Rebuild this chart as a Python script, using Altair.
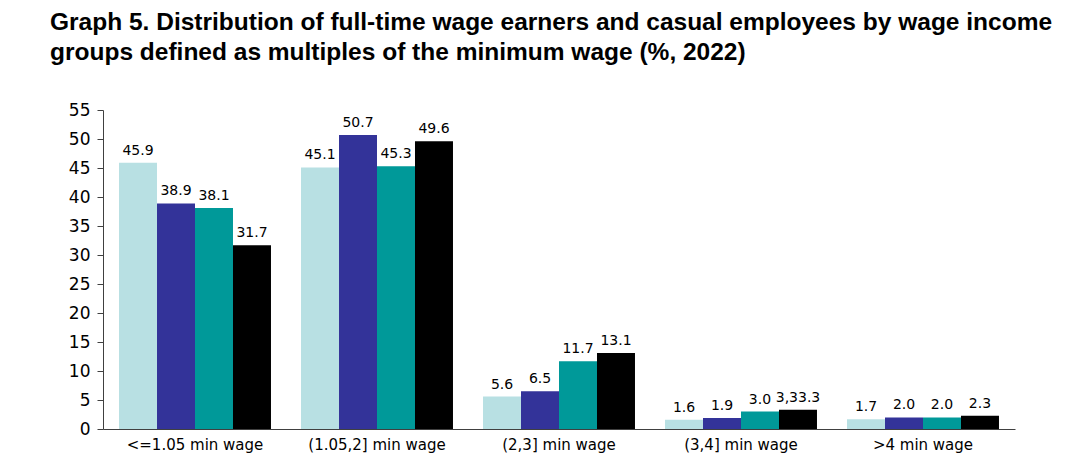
import altair as alt
import pandas as pd

categories = ["<=1.05 min wage", "(1.05,2] min wage", "(2,3] min wage", "(3,4] min wage", ">4 min wage"]
series = ["Series 1", "Series 2", "Series 3", "Series 4"]
s1 = [45.9, 45.1, 5.6, 1.6, 1.7]
s2 = [38.9, 50.7, 6.5, 1.9, 2.0]
s3 = [38.1, 45.3, 11.7, 3.0, 2.0]
s4 = [31.7, 49.6, 13.1, 3.3, 2.3]
labels1 = ["45.9", "45.1", "5.6", "1.6", "1.7"]
labels2 = ["38.9", "50.7", "6.5", "1.9", "2.0"]
labels3 = ["38.1", "45.3", "11.7", "3.0", "2.0"]
labels4 = ["31.7", "49.6", "13.1", "3,33.3", "2.3"]
colors = ["#B8E0E3", "#333399", "#009999", "#000000"]
y_ticks = [0, 5, 10, 15, 20, 25, 30, 35, 40, 45, 50, 55]

rows = []
for name, vals, labs in zip(series, [s1, s2, s3, s4], [labels1, labels2, labels3, labels4]):
    for c, v, l in zip(categories, vals, labs):
        rows.append({"category": c, "series": name, "value": v, "label": l})
df = pd.DataFrame(rows)

x_enc = alt.X(
    "category:N",
    sort=categories,
    scale=alt.Scale(paddingInner=0.165, paddingOuter=0.088),
    axis=alt.Axis(
        title=None, labelAngle=0, ticks=False, labelPadding=8,
        labelFont="DejaVu Sans", labelFontSize=15, labelColor="black",
        domainColor="#404040", domainWidth=1,
    ),
)
xoff = alt.XOffset("series:N", sort=series, scale=alt.Scale(paddingInner=0, paddingOuter=0))
y_enc = alt.Y(
    "value:Q",
    scale=alt.Scale(domain=[0, 55], nice=False, zero=True),
    axis=alt.Axis(
        title=None, values=y_ticks, tickCount=12, grid=False, tickSize=6, tickColor="#404040",
        domainColor="#404040", labelPadding=7, labelFont="DejaVu Sans",
        labelFontSize=17, labelColor="black", labelOverlap=False, labelFlush=False,
    ),
)

bars = alt.Chart(df).mark_bar().encode(
    x=x_enc,
    xOffset=xoff,
    y=y_enc,
    color=alt.Color("series:N", sort=series, scale=alt.Scale(domain=series, range=colors), legend=None),
)

texts = alt.Chart(df).mark_text(
    baseline="bottom", dy=-5, font="DejaVu Sans", fontSize=14, color="black"
).encode(
    x=x_enc,
    xOffset=xoff,
    y=y_enc,
    text="label:N",
)

chart = alt.layer(bars, texts).properties(
    width=912,
    height=319,
    autosize=alt.AutoSizeParams(type="none"),
    padding={"left": 95, "top": 102, "right": 60, "bottom": 40},
    title=alt.TitleParams(
        text=[
            "Graph 5. Distribution of full-time wage earners and casual employees by wage income",
            "groups defined as multiples of the minimum wage (%, 2022)",
        ],
        anchor="start",
        frame="group",
        dx=-53,
        offset=36,
        font="Liberation Sans",
        fontSize=24.5,
        fontWeight="bold",
        color="black",
        lineHeight=30,
    ),
).configure_view(stroke=None)

chart.save("out.html", embed_options={"renderer": "svg", "actions": False})
